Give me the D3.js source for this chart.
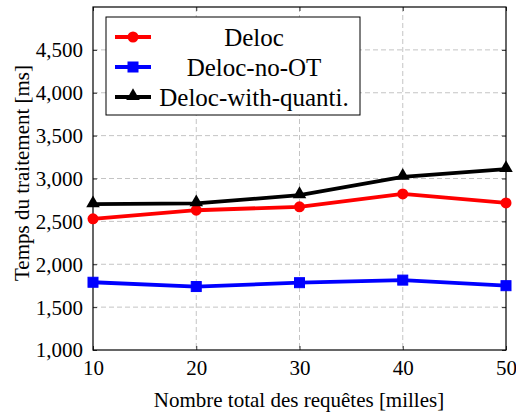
<!DOCTYPE html>
<html>
<head>
<meta charset="utf-8">
<script src="https://cdn.jsdelivr.net/npm/d3@7"></script>
<style>
  html, body { margin: 0; padding: 0; background: #fff; }
  svg { display: block; }
  text { font-family: "Liberation Serif", "Times New Roman", serif; fill: #000; }
</style>
</head>
<body>
<div id="chart"></div>
<script>
// Processing time vs. total number of requests
const requests = [10, 20, 30, 40, 50];
const delocTimes = [2530, 2630, 2670, 2820, 2715];
const delocNoOtTimes = [1790, 1740, 1785, 1815, 1750];
const delocQuantiTimes = [2700, 2710, 2805, 3020, 3110];
const yTicks = [1000, 1500, 2000, 2500, 3000, 3500, 4000, 4500];
const seriesNames = ["Deloc", "Deloc-no-OT", "Deloc-with-quanti."];
const seriesColors = ["#ff0000", "#0000ff", "#000000"];
const seriesMarks = ["circle", "square", "triangle"];

const W = 516, H = 414;
const margin = { left: 93, right: 10, top: 7, bottom: 64 };
const serif = "Liberation Serif, Times New Roman, serif";

const svg = d3.select("#chart").append("svg").attr("width", W).attr("height", H);

const x = d3.scaleLinear().domain([10, 50]).range([margin.left, W - margin.right]);
const y = d3.scaleLinear().domain([1000, 5000]).range([H - margin.bottom, margin.top]);

const x0 = x.range()[0], x1 = x.range()[1], yb = y.range()[0], yt = y.range()[1];

// dashed grid
const grid = svg.append("g").attr("stroke", "#c4c4c4").attr("stroke-width", 1)
  .attr("stroke-dasharray", "5,3");
grid.selectAll("line.h").data(yTicks.slice(1)).join("line")
  .attr("x1", x0).attr("x2", x1).attr("y1", d => y(d)).attr("y2", d => y(d));
grid.selectAll("line.v").data(requests.slice(1, -1)).join("line")
  .attr("y1", yt).attr("y2", yb).attr("x1", d => x(d)).attr("x2", d => x(d));

// axes with inward ticks on all four sides
const tickFont = 21;
const axL = svg.append("g").attr("transform", `translate(${x0},0)`)
  .call(d3.axisLeft(y).tickValues(yTicks).tickSize(-4).tickPadding(10)
    .tickFormat(d3.format(",")));
const axR = svg.append("g").attr("transform", `translate(${x1},0)`)
  .call(d3.axisRight(y).tickValues(yTicks).tickSize(-4).tickFormat(""));
const axB = svg.append("g").attr("transform", `translate(0,${yb})`)
  .call(d3.axisBottom(x).tickValues(requests).tickSize(-4).tickPadding(10));
const axT = svg.append("g").attr("transform", `translate(0,${yt})`)
  .call(d3.axisTop(x).tickValues(requests).tickSize(-4).tickFormat(""));
[axL, axR, axB, axT].forEach(a => {
  a.select(".domain").remove();
  a.selectAll(".tick line").attr("stroke", "#000").attr("stroke-width", 0.8);
  a.selectAll("text").style("font-family", serif)
    .style("font-size", tickFont + "px").attr("fill", "#000");
});
axL.selectAll("text").attr("dy", "0.33em");
axB.selectAll("text").attr("dy", "0.73em");

// frame
svg.append("rect").attr("x", x0).attr("y", yt).attr("width", x1 - x0).attr("height", yb - yt)
  .attr("fill", "none").attr("stroke", "#000").attr("stroke-width", 1.2);

// marker drawing
function drawMark(g, type, cx, cy, color) {
  if (type === "circle") {
    g.append("circle").attr("cx", cx).attr("cy", cy).attr("r", 5.5).attr("fill", color);
  } else if (type === "square") {
    g.append("rect").attr("x", cx - 5).attr("y", cy - 5).attr("width", 10).attr("height", 10)
      .attr("fill", color).attr("stroke", color).attr("stroke-width", 1);
  } else {
    const s = d3.symbol().type(d3.symbolTriangle).size(80);
    g.append("path").attr("d", s()).attr("transform", `translate(${cx},${cy - 1})`).attr("fill", color);
  }
}

const allSeries = [delocTimes, delocNoOtTimes, delocQuantiTimes];
const line = d3.line().x((d, i) => x(requests[i])).y(d => y(d));
allSeries.forEach((vals, si) => {
  const g = svg.append("g");
  g.append("path").datum(vals).attr("d", line).attr("fill", "none")
    .attr("stroke", seriesColors[si]).attr("stroke-width", 3.8).attr("stroke-linejoin", "round");
  vals.forEach((v, i) => drawMark(g, seriesMarks[si], x(requests[i]), y(v), seriesColors[si]));
});

// legend
const lg = svg.append("g");
lg.append("rect").attr("x", 106).attr("y", 17).attr("width", 254).attr("height", 98)
  .attr("fill", "#fff").attr("stroke", "#000").attr("stroke-width", 1);
seriesNames.forEach((name, i) => {
  const cy = 37 + i * 30;
  lg.append("line").attr("x1", 115).attr("x2", 151).attr("y1", cy).attr("y2", cy)
    .attr("stroke", seriesColors[i]).attr("stroke-width", 3.8);
  drawMark(lg, seriesMarks[i], 133, cy, seriesColors[i]);
  lg.append("text").attr("x", 254).attr("y", cy).attr("dy", "0.34em")
    .attr("text-anchor", "middle").style("font-size", "25px").text(name);
});

// axis titles
svg.append("text").attr("x", 299).attr("y", 406.5).attr("text-anchor", "middle")
  .style("font-size", "21px").text("Nombre total des requêtes [milles]");
svg.append("text").attr("transform", `translate(29,173) rotate(-90)`)
  .attr("text-anchor", "middle").style("font-size", "21px").text("Temps du traitement [ms]");
</script>
</body>
</html>
